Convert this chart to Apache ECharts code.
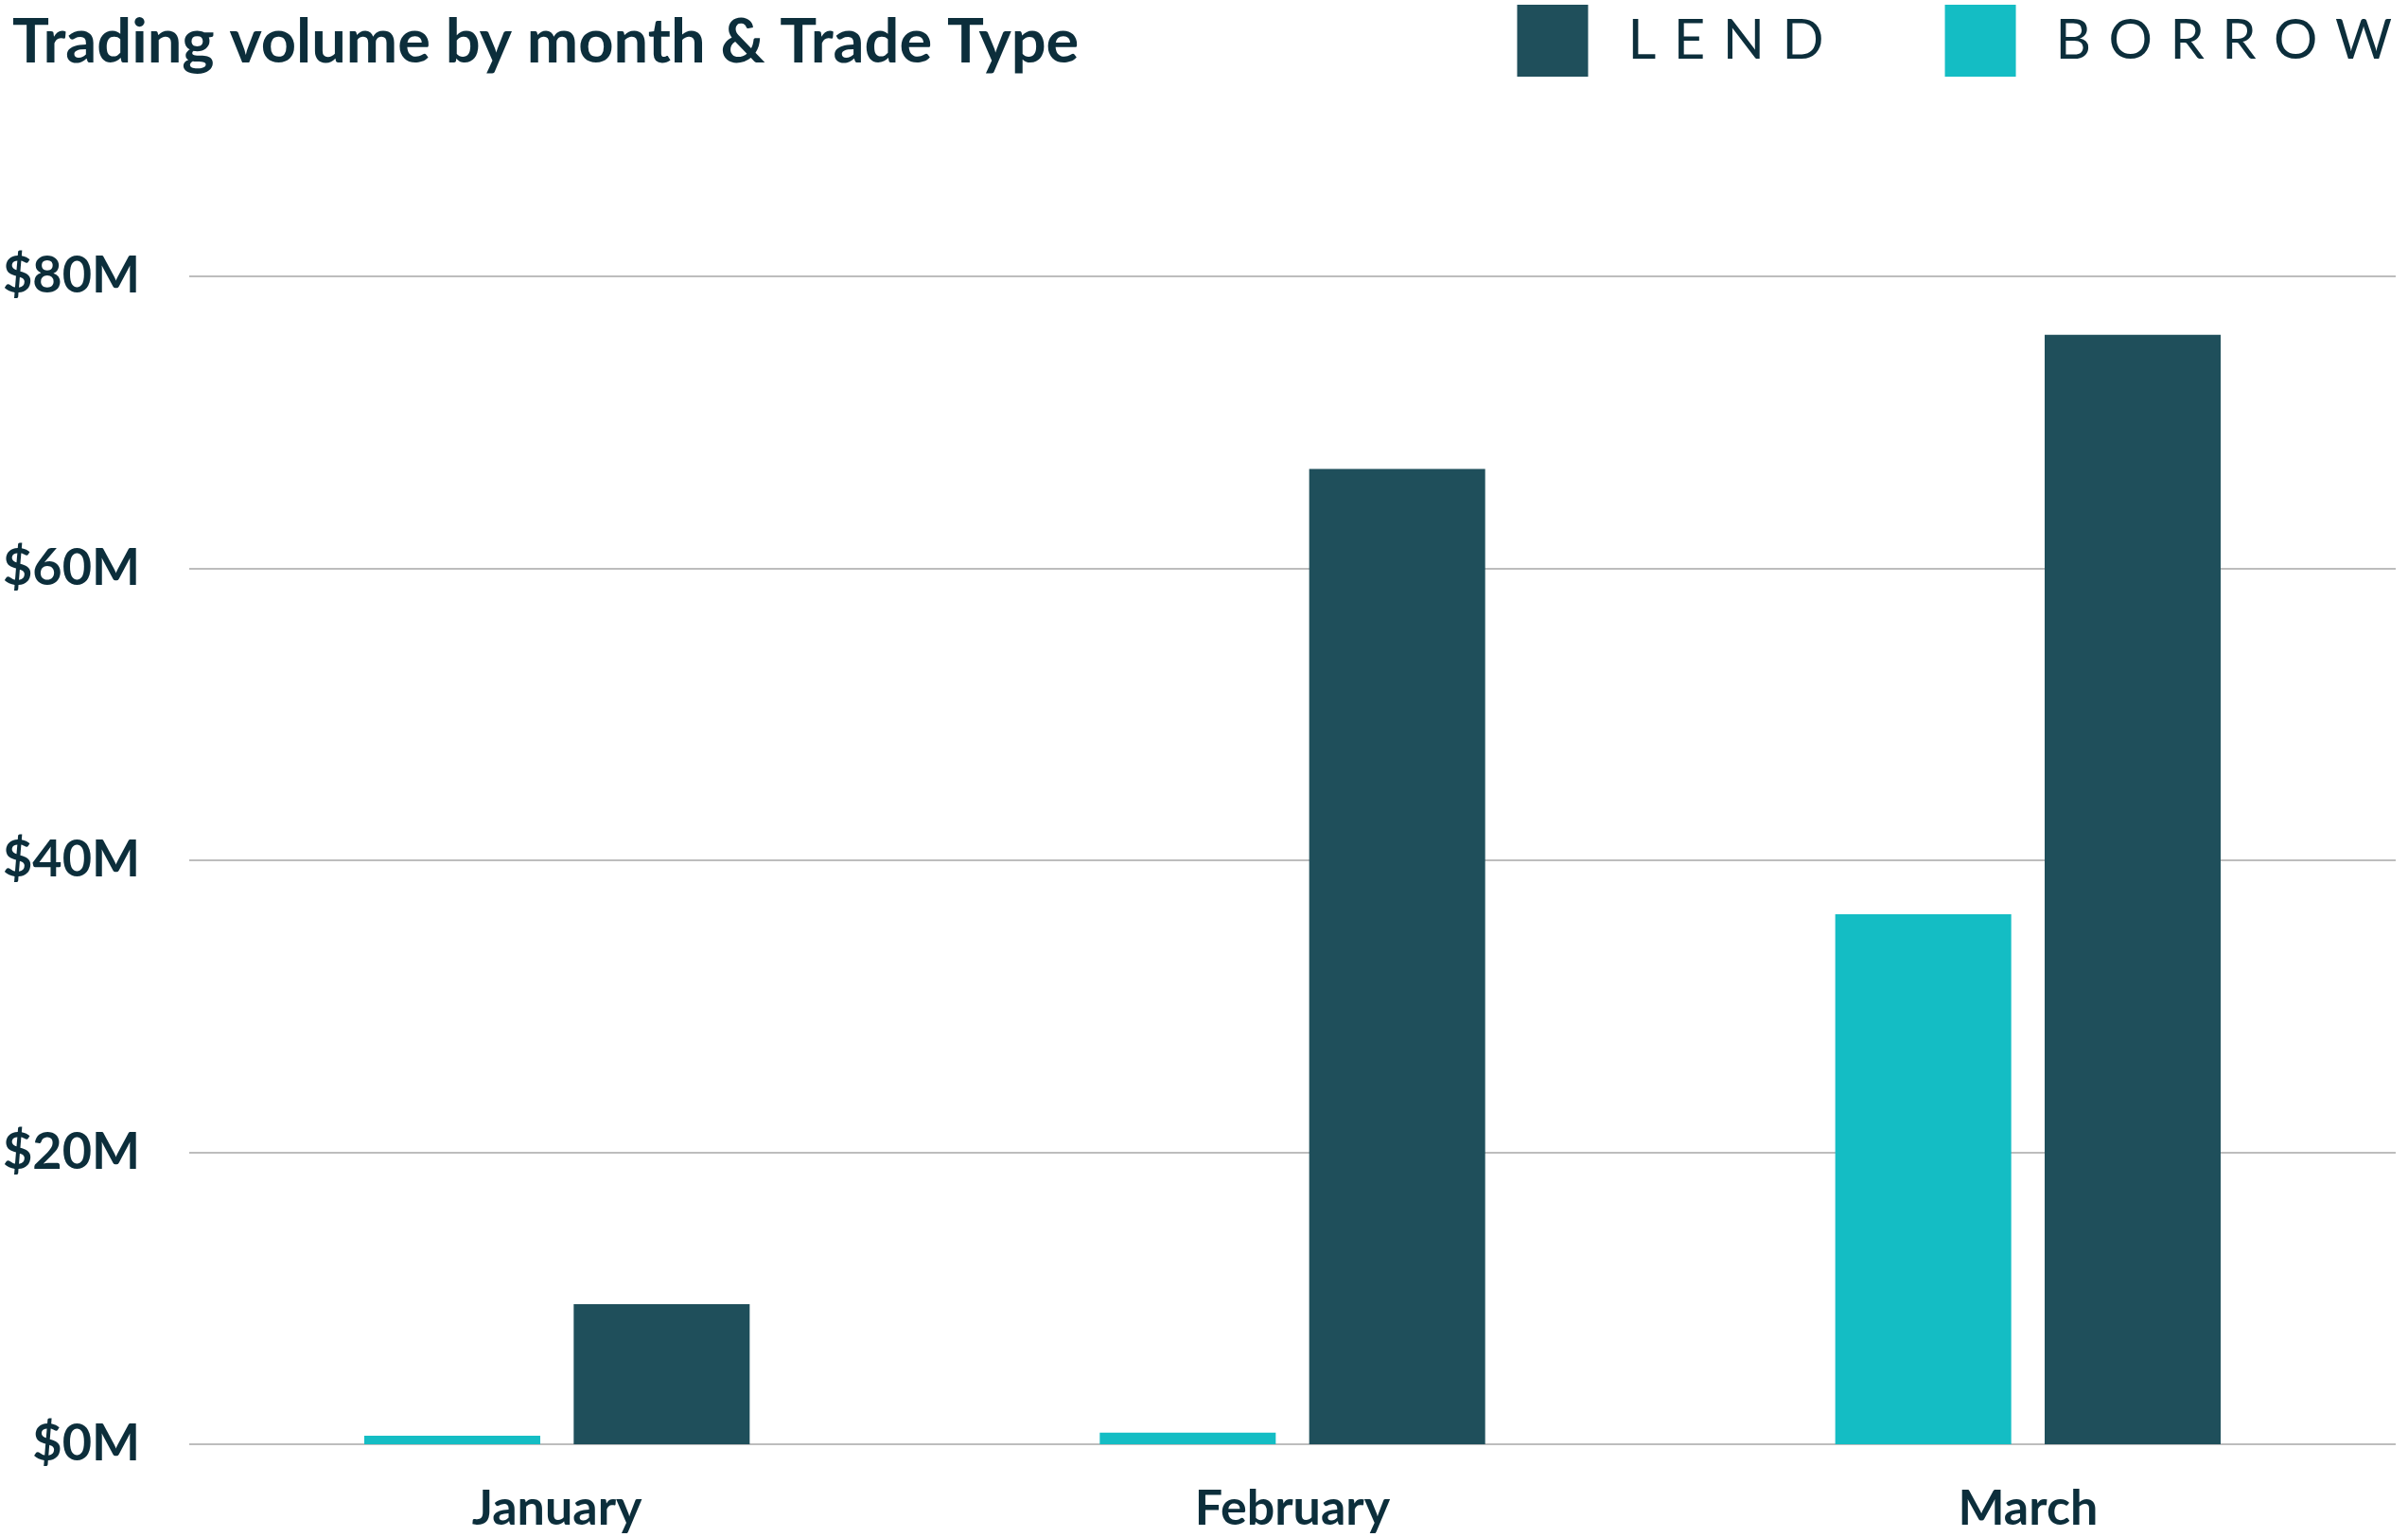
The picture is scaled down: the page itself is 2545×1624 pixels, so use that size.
<!DOCTYPE html>
<html>
<head>
<meta charset="utf-8">
<title>Trading volume by month & Trade Type</title>
<script src="https://cdn.jsdelivr.net/npm/echarts@6/dist/echarts.min.js"></script>
<style>
  html, body { margin: 0; padding: 0; background: #fff; }
  #chart { width: 2545px; height: 1624px; }
</style>
</head>
<body>
<div id="chart"></div>
<script>
// data, in $M
var months = ['January', 'February', 'March'];
var borrow = [0.58, 0.8, 36.3];
var lend = [9.6, 66.8, 76.0];
var yTicks = [0, 20, 40, 60, 80];

var textColor = '#0c2e3b';

var myChart = echarts.init(document.getElementById('chart'));

var option = {
  animation: false,
  title: {
    text: 'Trading volume by month & Trade Type',
    left: 8,
    top: 8,
    textStyle: {
      fontFamily: 'Lato',
      fontWeight: 'bold',
      fontSize: 65,
      color: textColor
    }
  },
  legend: {
    data: ['LEND', 'BORROW'],
    right: 12,
    top: 0,
    itemWidth: 75,
    itemHeight: 76,
    itemGap: 128,
    icon: 'rect',
    formatter: function (name) {
      // wide letter spacing
      return name.split('').join(' \u200A');
    },
    textStyle: {
      fontFamily: 'Lato',
      fontSize: 58,
      color: textColor,
      padding: [0, 0, 0, 37]
    }
  },
  grid: {
    left: 198,
    right: 13,
    top: 292,
    bottom: 98,
    containLabel: false
  },
  xAxis: {
    type: 'category',
    data: months,
    axisLine: { show: false },
    axisTick: { show: false },
    axisLabel: {
      margin: 42,
      fontFamily: 'Lato',
      fontWeight: 'bold',
      fontSize: 52,
      color: textColor
    }
  },
  yAxis: {
    type: 'value',
    min: yTicks[0],
    max: yTicks[yTicks.length - 1],
    interval: 20,
    axisLine: { show: false },
    axisTick: { show: false },
    splitLine: { lineStyle: { color: '#bdbdbd', width: 2 } },
    axisLabel: {
      margin: 52,
      fontFamily: 'Lato',
      fontWeight: 'bold',
      fontSize: 54,
      color: textColor,
      formatter: function (v) { return '$' + v + 'M'; }
    }
  },
  series: [
    {
      name: 'BORROW',
      type: 'bar',
      data: borrow,
      barWidth: 186,
      barGap: '19%',
      itemStyle: { color: '#14bdc4' }
    },
    {
      name: 'LEND',
      type: 'bar',
      data: lend,
      barWidth: 186,
      barGap: '19%',
      itemStyle: { color: '#1f4f5b' }
    }
  ]
};

myChart.setOption(option);
</script>
</body>
</html>
